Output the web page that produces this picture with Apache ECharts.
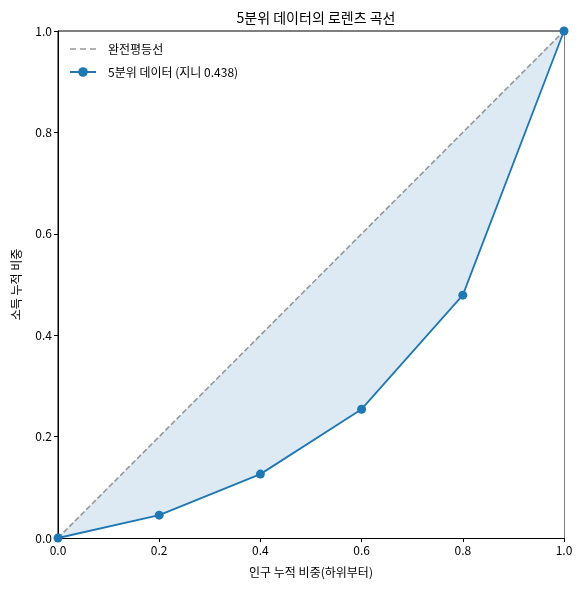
<!DOCTYPE html>
<html><head><meta charset="utf-8">
<script src="https://cdn.jsdelivr.net/npm/echarts@6/dist/echarts.min.js"></script>
<style>html,body{margin:0;padding:0;background:#fff}#c{width:582px;height:590px}</style>
</head><body><div id="c"></div>
<script>
const popShare = [0, 0.2, 0.4, 0.6, 0.8, 1.0];
const incomeShare = [0, 0.045, 0.126, 0.254, 0.479, 1.0];
const equality = [0, 0.2, 0.4, 0.6, 0.8, 1.0];
const titleText = '5분위 데이터의 로렌츠 곡선';
const xName = '인구 누적 비중(하위부터)';
const yName = '소득 누적 비중';
const eqName = '완전평등선';
const lzName = '5분위 데이터 (지니 0.438)';

const font = '"Noto Sans CJK KR", "Noto Sans", sans-serif';
const chart = echarts.init(document.getElementById('c'));
const dashIcon = 'path://M0,0 M26,12 M0,5.2h6v1.6h-6z M10,5.2h6v1.6h-6z M20,5.2h6v1.6h-6z';
chart.setOption({
  animation: false,
  textStyle: {fontFamily: font},
  title: {text: titleText, left: 311, top: 6, textAlign: 'center',
    textStyle: {fontSize: 14, fontWeight: 'normal', color: '#000', fontFamily: font}},
  legend: {left: 64, top: 38, orient: 'vertical', itemGap: 11, itemWidth: 26, itemHeight: 12,
    data: [{name: eqName, icon: dashIcon, itemStyle: {color: 'rgba(128,128,128,0.8)'}}, {name: lzName}],
    textStyle: {fontSize: 12, color: '#000', fontFamily: font, padding: [0, 0, 0, 7]}},
  grid: {left: 58, right: 18, top: 31, bottom: 52, show: true, borderColor: '#000', borderWidth: 1},
  xAxis: {type: 'value', min: 0, max: 1, interval: 0.2,
    name: xName, nameLocation: 'middle', nameGap: 28,
    nameTextStyle: {fontSize: 12, color: '#000', fontFamily: font},
    axisLine: {show: true, lineStyle: {color: '#000'}},
    axisTick: {show: true, length: 4, lineStyle: {color: '#000'}},
    axisLabel: {fontSize: 12, color: '#000', margin: 6, formatter: v => v.toFixed(1)},
    splitLine: {show: false}},
  yAxis: {type: 'value', min: 0, max: 1, interval: 0.2,
    name: yName, nameLocation: 'middle', nameGap: 36, nameRotate: 90,
    nameTextStyle: {fontSize: 12, color: '#000', fontFamily: font},
    axisLine: {show: true, lineStyle: {color: '#000'}},
    axisTick: {show: true, length: 4, lineStyle: {color: '#000'}},
    axisLabel: {fontSize: 12, color: '#000', margin: 6, formatter: v => v.toFixed(1)},
    splitLine: {show: false}},
  series: [
    {name: eqName, type: 'line', data: popShare.map((x, i) => [x, equality[i]]),
      symbol: 'none', z: 2,
      lineStyle: {color: 'rgba(128,128,128,0.8)', width: 1.6, type: [5.5, 2.5]},
      itemStyle: {color: 'rgba(128,128,128,0.8)'},
      areaStyle: {color: 'rgb(221,234,244)', opacity: 1}},
    {name: 'mask', type: 'line', data: popShare.map((x, i) => [x, incomeShare[i]]),
      symbol: 'none', silent: true, z: 3, lineStyle: {opacity: 0},
      areaStyle: {color: '#fff', opacity: 1}},
    {name: lzName, type: 'line', data: popShare.map((x, i) => [x, incomeShare[i]]),
      symbol: 'circle', symbolSize: 9, z: 4,
      lineStyle: {color: '#1f77b4', width: 1.8},
      itemStyle: {color: '#1f77b4'}}
  ]
});
</script></body></html>
